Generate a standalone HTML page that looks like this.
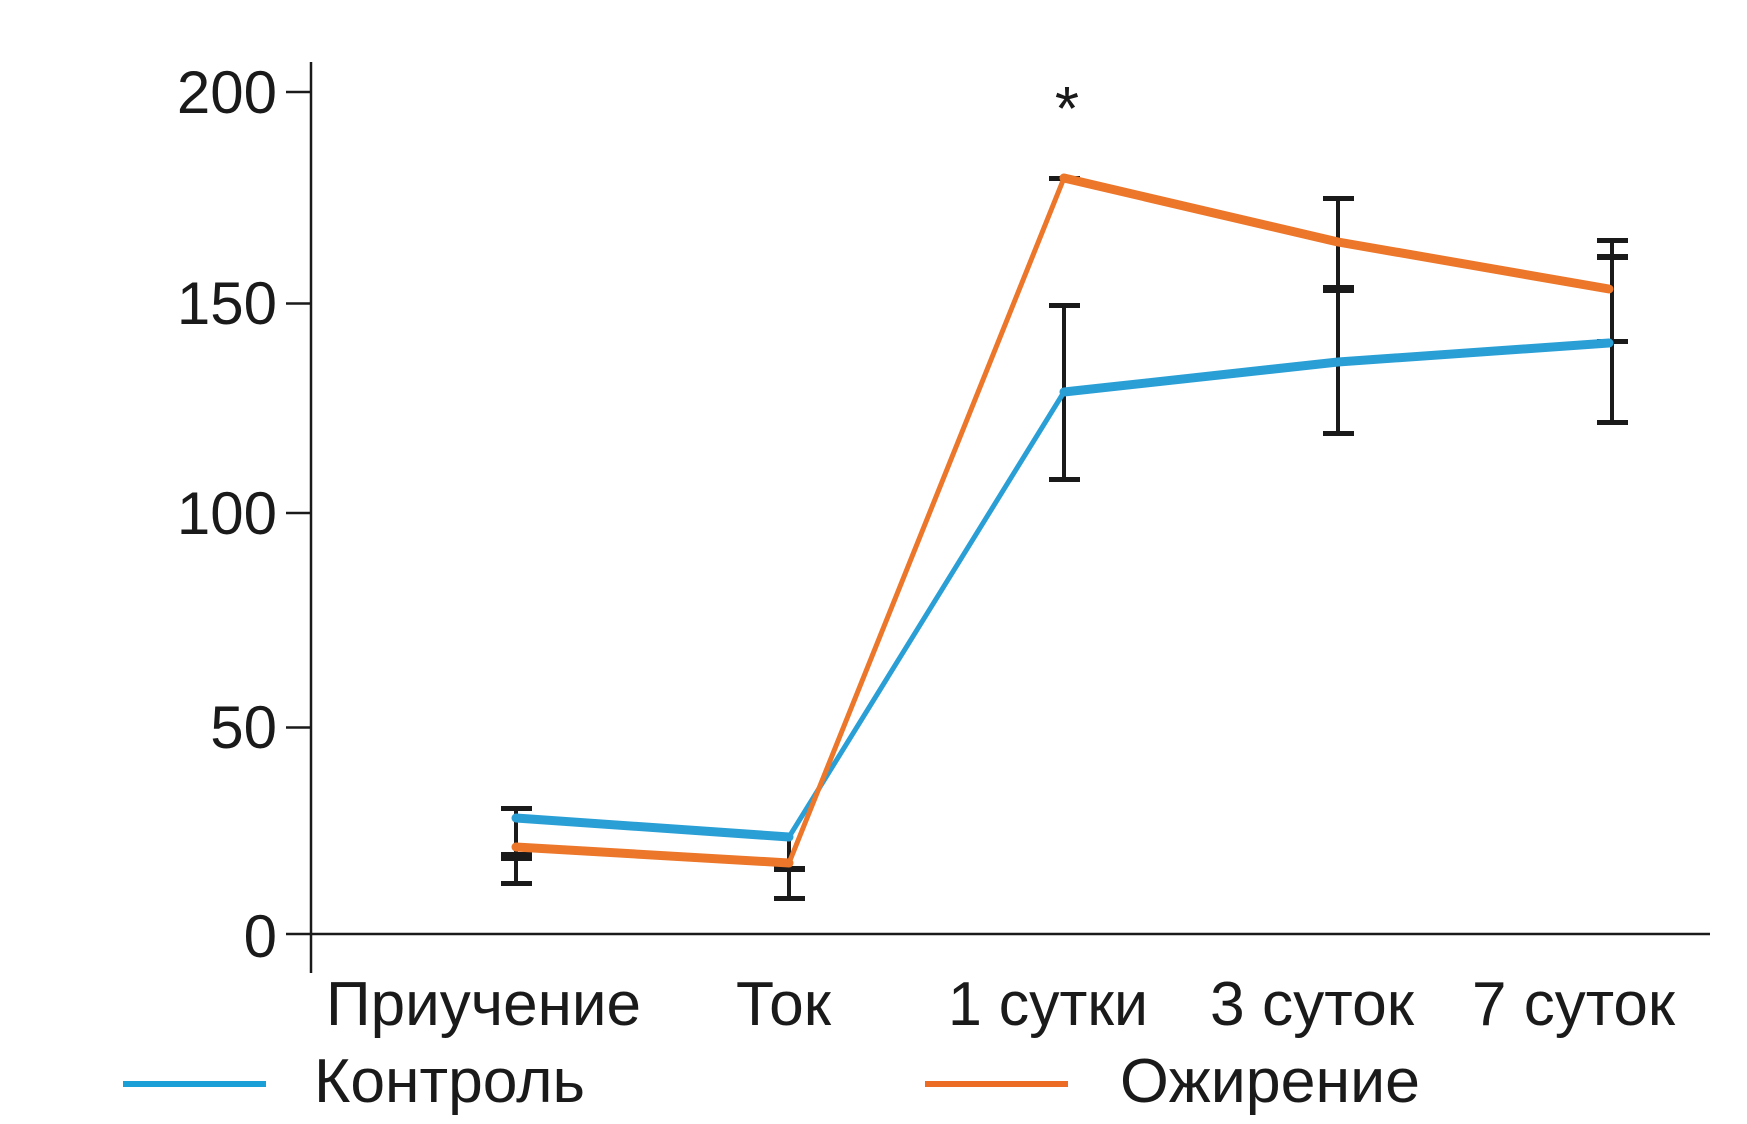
<!DOCTYPE html>
<html><head><meta charset="utf-8"><style>
html,body{margin:0;padding:0;background:#fff;}
svg{display:block;}
text{font-family:"Liberation Sans",sans-serif;fill:#1a1a1a;}
</style></head><body>
<svg width="1747" height="1124" viewBox="0 0 1747 1124" xmlns="http://www.w3.org/2000/svg">
<g stroke="#1a1a1a" stroke-width="2.5" fill="none">
<line x1="311" y1="62" x2="311" y2="973"/>
<line x1="286" y1="934" x2="1710" y2="934"/>
<line x1="286" y1="92" x2="311" y2="92"/>
<line x1="286" y1="303.5" x2="311" y2="303.5"/>
<line x1="286" y1="513" x2="311" y2="513"/>
<line x1="286" y1="727.5" x2="311" y2="727.5"/>
</g>
<g font-size="60" text-anchor="end">
<text x="277" y="113">200</text>
<text x="277" y="324">150</text>
<text x="277" y="534">100</text>
<text x="277" y="748">50</text>
<text x="277" y="957">0</text>
</g>
<g stroke="#1a1a1a" stroke-width="4" fill="none">
<line x1="516" y1="808" x2="516" y2="883"/>
<line x1="789" y1="840" x2="789" y2="899"/>
<line x1="1064" y1="305" x2="1064" y2="479"/>
<line x1="1338" y1="198" x2="1338" y2="433"/>
<line x1="1612" y1="241" x2="1612" y2="422"/>
</g>
<g fill="#1a1a1a">
<rect x="501" y="806" width="31" height="5"/>
<rect x="501" y="852" width="31" height="9"/>
<rect x="501" y="881" width="31" height="5"/>
<rect x="774" y="866" width="31" height="6"/>
<rect x="774" y="896" width="31" height="5"/>
<rect x="1049" y="176" width="31" height="5"/>
<rect x="1049" y="303" width="31" height="5"/>
<rect x="1049" y="477" width="31" height="5"/>
<rect x="1323" y="196" width="31" height="5"/>
<rect x="1323" y="285" width="31" height="8"/>
<rect x="1323" y="431" width="31" height="5"/>
<rect x="1597" y="238" width="31" height="5"/>
<rect x="1597" y="254" width="31" height="6"/>
<rect x="1597" y="339" width="31" height="5"/>
<rect x="1597" y="420" width="31" height="5"/>
</g>
<g stroke="#2a9fd6" fill="none" stroke-linecap="round" stroke-linejoin="round">
<polyline points="516,818 789,837" stroke-width="9"/>
<polyline points="789,837 1064,392" stroke-width="5"/>
<polyline points="1064,392 1338,362 1609,343" stroke-width="9"/>
</g>
<g stroke="#ec762a" fill="none" stroke-linecap="round" stroke-linejoin="round">
<polyline points="516,847 789,863" stroke-width="9"/>
<polyline points="789,863 1064,178" stroke-width="5"/>
<polyline points="1064,178 1338,242 1609,289" stroke-width="9"/>
</g>
<text x="1067" y="130" font-size="62" text-anchor="middle">*</text>
<g font-size="62">
<text x="326" y="1025" textLength="315" lengthAdjust="spacingAndGlyphs">Приучение</text>
<text x="736" y="1025" textLength="95" lengthAdjust="spacingAndGlyphs">Ток</text>
<text x="948" y="1025" textLength="200" lengthAdjust="spacingAndGlyphs">1 сутки</text>
<text x="1210" y="1025" textLength="204" lengthAdjust="spacingAndGlyphs">3 суток</text>
<text x="1472" y="1025" textLength="203" lengthAdjust="spacingAndGlyphs">7 суток</text>
<text x="314" y="1102" textLength="271" lengthAdjust="spacingAndGlyphs">Контроль</text>
<text x="1120" y="1102" textLength="300" lengthAdjust="spacingAndGlyphs">Ожирение</text>
</g>
<line x1="123" y1="1084" x2="266" y2="1084" stroke="#1a9fd6" stroke-width="6"/>
<line x1="925" y1="1084" x2="1068" y2="1084" stroke="#ec6b25" stroke-width="6"/>
</svg>
</body></html>
